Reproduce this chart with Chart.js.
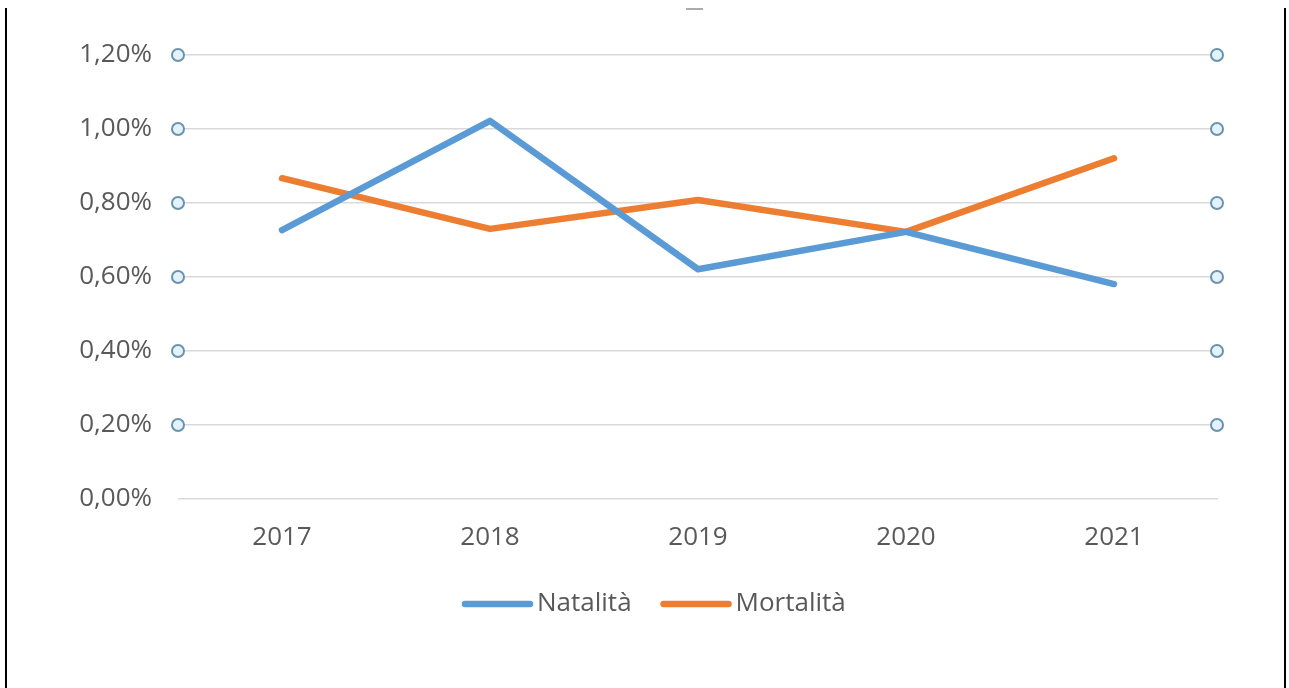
<!DOCTYPE html>
<html>
<head>
<meta charset="utf-8">
<script src="https://cdn.jsdelivr.net/npm/chart.js@4/dist/chart.umd.min.js"></script>
<style>
    body { margin: 0; background: #fff; }
    #wrap { position: relative; width: 1289px; height: 688px; }
    #frame { position: absolute; left: 5px; top: 8px; width: 1277px; height: 680px; border-left: 2px solid #000; border-right: 2px solid #000; }
    #titleBit { position: absolute; left: 686px; top: 8px; width: 17px; height: 2px; background: #888; opacity: 0.7; }
    canvas { position: absolute; left: 0; top: 0; }
</style>
</head>
<body>
<div id="wrap">
    <canvas id="chart" width="1289" height="688"></canvas>
    <div id="frame"></div>
    <div id="titleBit"></div>
</div>
<script>
// data (percent)
const years = ['2017', '2018', '2019', '2020', '2021'];
const natalita = [0.727, 1.022, 0.621, 0.722, 0.581];
const mortalita = [0.867, 0.730, 0.808, 0.722, 0.921];
const seriesNames = ['Natalità', 'Mortalità'];
const seriesColors = ['#5b9bd5', '#ed7d31'];

const fontFamily = '"Open Sans", "Noto Sans", sans-serif';
const fontSize = 26;
const textColor = '#595959';

const fmtPct = v => v.toFixed(2).replace('.', ',') + '%';

// small selection handles at the ends of each gridline
const handlesPlugin = {
    id: 'handles',
    afterDraw(chart) {
        let ctx = chart.ctx;
        let y = chart.scales.y;
        let area = chart.chartArea;
        ctx.save();
        y.ticks.forEach(t => {
            if (t.value <= 0) return;
            let py = y.getPixelForValue(t.value);
            [area.left, area.right - 1].forEach(px => {
                ctx.beginPath();
                ctx.arc(px, py, 6, 0, Math.PI * 2);
                ctx.fillStyle = '#e2f3fc';
                ctx.fill();
                ctx.lineWidth = 2;
                ctx.strokeStyle = '#6b93ad';
                ctx.stroke();
            });
        });
        ctx.restore();
    }
};

// excel-like legend: long thick line then label
const legendPlugin = {
    id: 'xlLegend',
    afterDraw(chart) {
        let ctx = chart.ctx;
        ctx.save();
        ctx.font = fontSize + 'px ' + fontFamily;
        ctx.textBaseline = 'middle';
        let x = 462;
        let y = 604;
        chart.data.datasets.forEach(ds => {
            ctx.beginPath();
            ctx.lineCap = 'round';
            ctx.lineWidth = 6.5;
            ctx.strokeStyle = ds.borderColor;
            ctx.moveTo(x + 3, y);
            ctx.lineTo(x + 68, y);
            ctx.stroke();
            ctx.fillStyle = textColor;
            ctx.fillText(ds.label, x + 75, y);
            x += 75 + ctx.measureText(ds.label).width + 29;
        });
        ctx.restore();
    }
};

new Chart(document.getElementById('chart'), {
    type: 'line',
    data: {
        labels: years,
        datasets: [
            { label: seriesNames[0], data: natalita, borderColor: seriesColors[0], backgroundColor: seriesColors[0] },
            { label: seriesNames[1], data: mortalita, borderColor: seriesColors[1], backgroundColor: seriesColors[1] }
        ]
    },
    options: {
        responsive: false,
        animation: false,
        layout: { padding: { top: 55, right: 71, left: 0, bottom: 0 } },
        elements: {
            line: { borderWidth: 6.5, tension: 0, borderCapStyle: 'round', borderJoinStyle: 'round' },
            point: { radius: 0, hoverRadius: 0 }
        },
        plugins: {
            legend: { display: false },
            tooltip: { enabled: false }
        },
        scales: {
            x: {
                offset: true,
                grid: { display: false, drawTicks: false },
                border: { display: false },
                ticks: { padding: 23, color: textColor, font: { family: fontFamily, size: fontSize } },
                afterFit(s) { s.height = 189; }
            },
            y: {
                min: 0,
                max: 1.2,
                grid: { color: '#d9d9d9', lineWidth: 1.5, drawTicks: false },
                border: { display: false },
                ticks: {
                    stepSize: 0.2,
                    padding: 26,
                    color: textColor,
                    font: { family: fontFamily, size: fontSize },
                    callback: v => fmtPct(v)
                },
                afterFit(s) { s.width = 178; }
            }
        }
    },
    plugins: [handlesPlugin, legendPlugin]
});
</script>
</body>
</html>
